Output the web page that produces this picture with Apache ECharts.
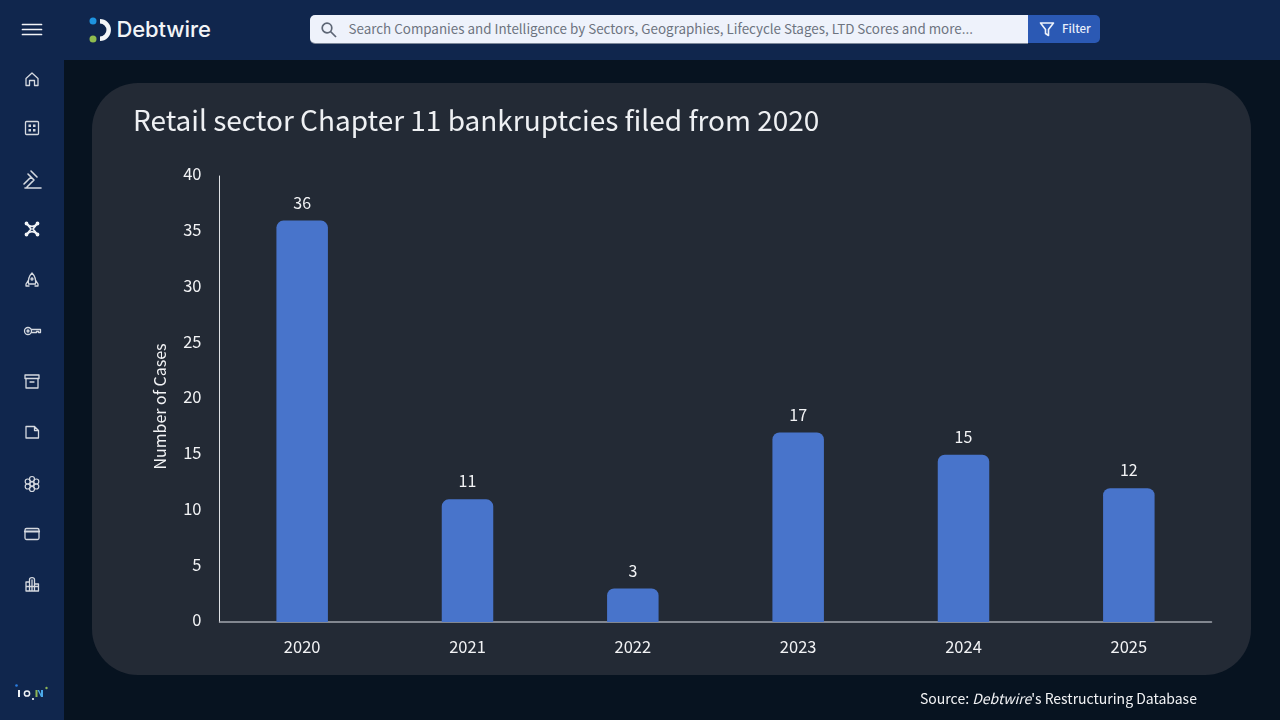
<!DOCTYPE html>
<html>
<head>
<meta charset="utf-8">
<script src="https://cdn.jsdelivr.net/npm/echarts@6/dist/echarts.min.js"></script>
<style>
html,body{margin:0;padding:0;width:1280px;height:720px;overflow:hidden;background:#071320;font-family:"Noto Sans CJK SC",sans-serif}
#top{position:absolute;left:0;top:0;width:1280px;height:60px;background:#10264d}
#side{position:absolute;left:0;top:0;width:64px;height:720px;background:#10264d}
#card{position:absolute;left:92px;top:83px;width:1159px;height:592px;border-radius:46px;background:#232a35}
#chart{position:absolute;left:0;top:0;width:1280px;height:720px}
#logoText{position:absolute;left:116.5px;top:14px;font:500 22px/30px "Inter",sans-serif;letter-spacing:-0.1px;color:#f2f4f7}
#search{position:absolute;left:310px;top:15px;width:718px;height:28px;background:#eef2fb;border-radius:5px 0 0 5px;box-shadow:0 1px 0 #7d8799}
#searchText{position:absolute;left:38.5px;top:0;font:13.4px/27px "Noto Sans CJK SC",sans-serif;color:#6d7480;white-space:nowrap}
#filter{position:absolute;left:1028px;top:15px;width:72px;height:28px;background:#2b59b4;border-radius:0 5px 5px 0}
#filterText{position:absolute;left:34px;top:0;font:500 11.5px/27px "Noto Sans CJK SC",sans-serif;color:#e8eefb}
svg{position:absolute;overflow:visible}
</style>
</head>
<body>
<div id="top"></div><div id="side"></div><div id="card"></div>
<svg style="left:0;top:0" width="64" height="720" fill="none" stroke="#d5d9e0" stroke-width="1.3" stroke-linejoin="round" stroke-linecap="round">
  <g stroke="#f2f4f7" stroke-width="1.7"><path d="M22.5 24.5H41.5M22.5 29.5H41.5M22.5 34.5H41.5"/></g>
  <path d="M26 78.5L32 73L38 78.5V85.5H34.5V80.5H29.5V85.5H26Z"/>
  <rect x="25.500" y="121.500" width="13" height="13" rx="1"/><g fill="#d5d9e0" stroke="none"><rect x="28.500" y="124.500" width="2.500" height="2.500"/><rect x="33" y="124.500" width="2.500" height="2.500"/><rect x="28.500" y="129" width="2.500" height="2.500"/><rect x="33" y="129" width="2.500" height="2.500"/></g>
  <g stroke-width="1.600"><path d="M31 171L37 177M28 174L34 180M31 177L24 184M34 180L27 187M25 188H41"/></g>
  <g stroke="#f2f4f7" stroke-width="1.800"><path d="M27 224C30 227 34 227 37 224M37 234C34 231 30 231 27 234"/><path d="M27 224L31 229L27 234M37 224L33 229L37 234"/><circle cx="26.500" cy="223.500" r="1"/><circle cx="37.500" cy="223.500" r="1"/><circle cx="26.500" cy="234.500" r="1"/><circle cx="37.500" cy="234.500" r="1"/></g>
  <path d="M32 273C35 276 36 280 35.500 284H28.500C28 280 29 276 32 273ZM28.500 280L26 284V286H29M35.500 280L38 284V286H35"/><circle cx="32" cy="279" r="1"/>
  <circle cx="28" cy="331" r="3.500"/><circle cx="28" cy="331" r="1"/><path d="M31.500 329.500H40.500V332.500H38.500V331.500H36.500V332.500H31.500"/>
  <rect x="25" y="375" width="14" height="3.500"/><path d="M26 378.500V388H38V378.500M30 382H34"/>
  <path d="M26 426.500H34.500L38.500 430.500V438H26ZM34.500 426.500V430.500H38.500"/>
  <g stroke-width="1.200"><circle cx="32" cy="484" r="2"/><circle cx="32" cy="479" r="2.500"/><circle cx="32" cy="489" r="2.500"/><circle cx="27.700" cy="481.500" r="2.500"/><circle cx="36.300" cy="481.500" r="2.500"/><circle cx="27.700" cy="486.500" r="2.500"/><circle cx="36.300" cy="486.500" r="2.500"/></g>
  <rect x="25" y="528.500" width="14" height="11" rx="1.500"/><path d="M25 531.500H39" stroke-width="2.200"/>
  <path d="M26 591V582H29.500V591M29.500 591V579.500C29.500 577 34.500 577 34.500 579.500V591M34.500 591V584H38.500V591H26M26 586.500H38.500M32 580V591"/>
  <g stroke="none">
    <circle cx="16.500" cy="685.500" r="1.300" fill="#2a7de1"/><circle cx="46.500" cy="688" r="1.200" fill="#8db556"/>
    <rect x="18" y="690" width="2" height="7" fill="#eef2f6"/>
    <circle cx="33" cy="699" r="1.100" fill="#eef2f6"/>
    <rect x="35.500" y="690" width="2" height="7" fill="#8db556"/><path d="M37.500 690L41 697H43V690H41V694L39 690Z" fill="#4aa8e8"/>
  </g>
  <circle cx="27" cy="693.500" r="2.600" stroke="#eef2f6" stroke-width="1.500"/>
</svg>
<svg style="left:88px;top:14px" width="24" height="28" fill="none">
  <circle cx="5" cy="7" r="3.500" fill="#1e94e0"/><circle cx="5" cy="25" r="3.500" fill="#8fbc4f"/>
  <path d="M12 7.300A8.700 8.700 0 0 1 12 24.700" stroke="#f4f6f8" stroke-width="4.500"/>
</svg>
<div id="logoText">Debtwire</div>
<div id="search">
  <svg style="left:10px;top:6px" width="18" height="18" fill="none" stroke="#5d6675" stroke-width="1.700"><circle cx="7" cy="7" r="4.800"/><path d="M10.500 10.500L16 16"/></svg>
  <div id="searchText">Search Companies and Intelligence by Sectors, Geographies, Lifecycle Stages, LTD Scores and more...</div>
</div>
<div id="filter">
  <svg style="left:11px;top:6px" width="16" height="16" fill="none" stroke="#eef2fb" stroke-width="1.600" stroke-linejoin="round"><path d="M1.500 2H14.500L9.500 8.500V14.500L6.500 12.500V8.500Z"/></svg>
  <div id="filterText">Filter</div>
</div>
<div id="chart"></div>
<script>
var categories = ["2020", "2021", "2022", "2023", "2024", "2025"];
var cases = [36, 11, 3, 17, 15, 12];
var yTicks = [0, 5, 10, 15, 20, 25, 30, 35, 40];
var titleText = "Retail sector Chapter 11 bankruptcies filed from 2020";
var axisName = "Number of Cases";
var fontName = "Noto Sans CJK SC";

var chart = echarts.init(document.getElementById("chart"), null, {renderer: "canvas"});
chart.setOption({
  backgroundColor: "transparent",
  animation: false,
  textStyle: {fontFamily: fontName},
  title: {
    text: titleText, left: 128, top: 95,
    textStyle: {color: "#eef0f3", fontSize: 28, fontWeight: 400, fontFamily: fontName, lineHeight: 40}
  },
  grid: {left: 219.5, top: 176, width: 992, height: 446, containLabel: false},
  xAxis: {
    type: "category", data: categories,
    axisTick: {show: false},
    axisLine: {show: true, lineStyle: {color: "#a3a7ae", width: 1.5}},
    axisLabel: {color: "#f2f3f5", fontSize: 16.5, margin: 16, fontFamily: fontName}
  },
  yAxis: {
    type: "value", min: yTicks[0], max: yTicks[yTicks.length - 1], interval: yTicks[1] - yTicks[0],
    name: axisName, nameLocation: "middle", nameGap: 52, nameRotate: 90,
    nameTextStyle: {color: "#f2f3f5", fontSize: 16, fontFamily: fontName, padding: [0, 15, 0, 0]},
    axisTick: {show: false},
    axisLine: {show: true, lineStyle: {color: "#dfe1e5", width: 1}},
    splitLine: {show: false},
    axisLabel: {color: "#f2f3f5", fontSize: 16.5, margin: 18, fontFamily: fontName, verticalAlign: "bottom", lineHeight: 4}
  },
  series: [{
    type: "bar", data: cases, barWidth: 51.5,
    itemStyle: {color: "#4874cb", borderRadius: [7, 7, 0, 0]},
    label: {show: true, position: "top", distance: 10, color: "#f2f3f5", fontSize: 16, fontFamily: fontName}
  }],
  graphic: [{
    type: "text", left: 920, top: 692,
    style: {
      rich: {
        a: {fontFamily: fontName, fontSize: 14, fill: "#f2f3f5", color: "#f2f3f5"},
        b: {fontFamily: fontName, fontSize: 14, fontStyle: "italic", fill: "#f2f3f5", color: "#f2f3f5"}
      },
      text: "{a|Source: }{b|Debtwire}{a|'s Restructuring Database}"
    }
  }]
});
</script>
</body>
</html>
